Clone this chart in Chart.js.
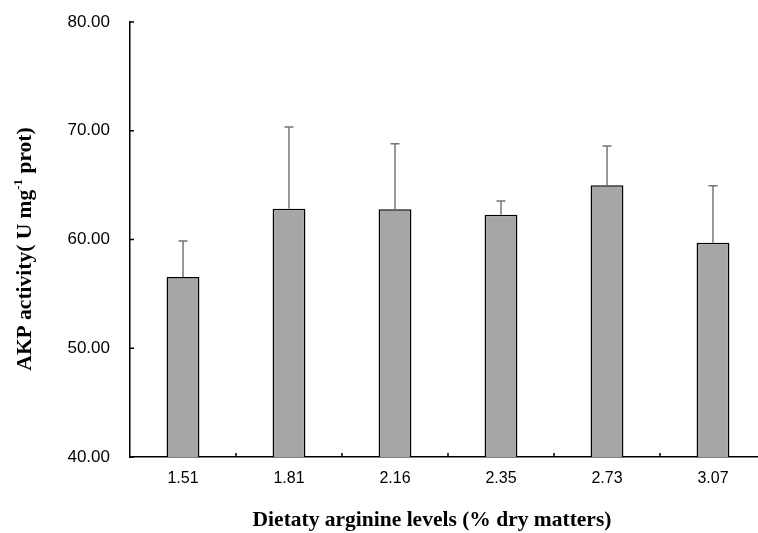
<!DOCTYPE html>
<html>
<head>
<meta charset="utf-8">
<script src="https://cdn.jsdelivr.net/npm/chart.js@4.4.0/dist/chart.umd.min.js"></script>
<style>
  html, body { margin: 0; padding: 0; background: #fff; overflow: hidden; }
  #wrap { width: 766px; height: 533px; }
</style>
</head>
<body>
<div id="wrap"><canvas id="myChart" width="766" height="533"></canvas></div>
<script>
let levels = ['1.51', '1.81', '2.16', '2.35', '2.73', '3.07'];
let means = [56.55, 62.82, 62.78, 62.28, 65.00, 59.71];
let sds = [3.31, 7.52, 6.02, 1.26, 3.60, 5.24];
let yTicks = [40, 50, 60, 70, 80];

let serif = '"Liberation Serif", "Times New Roman", serif';
let sans = '"Liberation Sans", Arial, sans-serif';

// error bars (upper half only) and inside tick marks
let extras = {
    id: 'extras',
    afterDatasetsDraw(chart) {
        let c = chart.ctx;
        let xs = chart.scales.x, ys = chart.scales.y;
        let area = chart.chartArea;
        c.save();
        c.strokeStyle = '#757575';
        c.lineWidth = 1.5;
        means.forEach((m, i) => {
            let x = xs.getPixelForValue(i);
            let y0 = ys.getPixelForValue(m);
            let y1 = ys.getPixelForValue(m + sds[i]);
            c.beginPath();
            c.moveTo(x, y0);
            c.lineTo(x, y1);
            c.moveTo(x - 4.5, y1);
            c.lineTo(x + 4.5, y1);
            c.stroke();
        });
        c.strokeStyle = '#000';
        c.lineWidth = 1.5;
        c.beginPath();
        for (let i = 1; i < levels.length; i++) {
            let x = (xs.getPixelForValue(i - 1) + xs.getPixelForValue(i)) / 2;
            c.moveTo(x, area.bottom);
            c.lineTo(x, area.bottom - 4);
        }
        yTicks.forEach(v => {
            let y = ys.getPixelForValue(v);
            c.moveTo(area.left, y);
            c.lineTo(area.left + 4, y);
        });
        c.stroke();
        c.restore();
    },
    afterDraw(chart) {
        let c = chart.ctx;
        c.save();
        c.fillStyle = '#000';
        c.font = 'bold 21.5px ' + serif;
        c.textBaseline = 'middle';
        c.textAlign = 'center';
        c.fillText('Dietaty arginine levels (% dry matters)', 432, 520);

        // y title with superscript
        let a = 'AKP activity( U mg', sup = '-1', b = ' prot)';
        c.font = 'bold 21.5px ' + serif;
        let wa = c.measureText(a).width, wb = c.measureText(b).width;
        c.font = 'bold 13px ' + serif;
        let ws = c.measureText(sup).width;
        let total = wa + ws + wb;
        c.translate(23, 249);
        c.rotate(-Math.PI / 2);
        c.textAlign = 'left';
        c.textBaseline = 'alphabetic';
        let x = -total / 2;
        c.font = 'bold 21.5px ' + serif;
        c.fillText(a, x, 7.5);
        c.font = 'bold 13px ' + serif;
        c.fillText(sup, x + wa, -1.5);
        c.font = 'bold 21.5px ' + serif;
        c.fillText(b, x + wa + ws, 7.5);
        c.restore();
    }
};

let ctx = document.getElementById('myChart').getContext('2d');
let myChart = new Chart(ctx, {
    type: 'bar',
    data: {
        labels: levels,
        datasets: [{
            data: means,
            backgroundColor: '#a6a6a6',
            borderColor: '#000',
            borderWidth: 1.5,
            barPercentage: 0.31,
            categoryPercentage: 1
        }]
    },
    options: {
        responsive: false,
        animation: false,
        layout: { padding: { top: 22, left: 0, right: 0, bottom: 0 } },
        plugins: {
            legend: { display: false },
            tooltip: { enabled: false }
        },
        scales: {
            x: {
                afterFit: (scale) => { scale.height = 76; scale.paddingLeft = 0; scale.paddingRight = 0; },
                grid: { display: false, drawTicks: false },
                border: { color: '#000', width: 1.5 },
                ticks: {
                    color: '#000',
                    padding: 12,
                    font: { family: sans, size: 16 }
                }
            },
            y: {
                min: 40,
                max: 80,
                afterFit: (scale) => { scale.width = 130; scale.paddingTop = 0; scale.paddingBottom = 0; },
                afterBuildTicks: (scale) => { scale.ticks = yTicks.map(v => ({ value: v })); },
                grid: { display: false, drawTicks: false },
                border: { color: '#000', width: 1.5 },
                ticks: {
                    color: '#000',
                    padding: 20,
                    font: { family: sans, size: 17 },
                    callback: (v) => Number(v).toFixed(2)
                }
            }
        }
    },
    plugins: [extras]
});
</script>
</body>
</html>
